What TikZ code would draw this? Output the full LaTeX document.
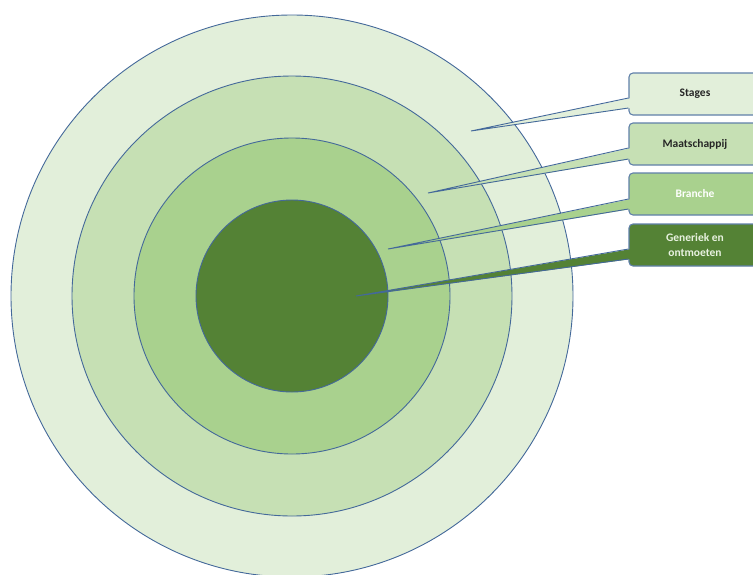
\documentclass[tikz,border=0pt]{standalone}
\usepackage{fontspec}
\setmainfont{Carlito}
\usetikzlibrary{calc}

\definecolor{ringout}{HTML}{E2EFDA}
\definecolor{ringmid}{HTML}{C6E0B4}
\definecolor{ringin}{HTML}{A9D18E}
\definecolor{corefill}{HTML}{548235}
\definecolor{edgeblue}{HTML}{44699A}
\definecolor{coretext}{HTML}{E8F2E0}

\begin{document}
\begin{tikzpicture}[
  x=1pt,y=-1pt,
  ring/.style={draw=edgeblue,line width=0.9pt},
  label/.style={draw=edgeblue!85,line width=1.1pt,rounded corners=4pt,
    minimum width=132pt,minimum height=42pt,align=center,
    font=\fontsize{11.5}{14.5}\selectfont\bfseries},
  pointer/.style={draw=edgeblue,line width=0.9pt,line join=miter}
]
  \useasboundingbox (0,0) rectangle (753,574);

  % target rings
  \node[ring,circle,fill=ringout,minimum size=562pt] (stagesring) at (292,296) {};
  \node[ring,circle,fill=ringmid,minimum size=440pt] (maatring) at (292,296) {};
  \node[ring,circle,fill=ringin,minimum size=316pt] (branchering) at (292,296) {};
  \node[ring,circle,fill=corefill,minimum size=192pt] (corering) at (292,296) {};

  % labels
  \node[label,fill=ringout,text=black!85] (stages) at (695,94) {Stages};
  \node[label,fill=ringmid,text=black!85] (maat) at (695,144) {Maatschappij};
  \node[label,fill=ringin,text=white] (branche) at (695,194) {Branche};
  \node[label,fill=corefill,text=coretext] (generiek) at (695,245) {Generiek en\\ontmoeten};

  % pointer tips
  \coordinate (stagestip) at (471,131);
  \coordinate (maattip) at (428,193);
  \coordinate (branchetip) at (388,249);
  \coordinate (generiektip) at (356,296);

  % pointers
  \fill[ringout] (stagestip) -- ($(stages.west)+(3,4)$) -- ($(stages.west)+(3,14)$) -- cycle;
  \draw[pointer] ($(stages.west)+(0,4)$) -- (stagestip) -- ($(stages.west)+(0,14)$);
  \fill[ringmid] (maattip) -- ($(maat.west)+(3,4)$) -- ($(maat.west)+(3,15)$) -- cycle;
  \draw[pointer] ($(maat.west)+(0,4)$) -- (maattip) -- ($(maat.west)+(0,15)$);
  \fill[ringin] (branchetip) -- ($(branche.west)+(3,5)$) -- ($(branche.west)+(3,15)$) -- cycle;
  \draw[pointer] ($(branche.west)+(0,5)$) -- (branchetip) -- ($(branche.west)+(0,15)$);
  \fill[corefill] (generiektip) -- ($(generiek.west)+(3,4)$) -- ($(generiek.west)+(3,14)$) -- cycle;
  \draw[pointer] ($(generiek.west)+(0,4)$) -- (generiektip) -- ($(generiek.west)+(0,14)$);
\end{tikzpicture}
\end{document}
